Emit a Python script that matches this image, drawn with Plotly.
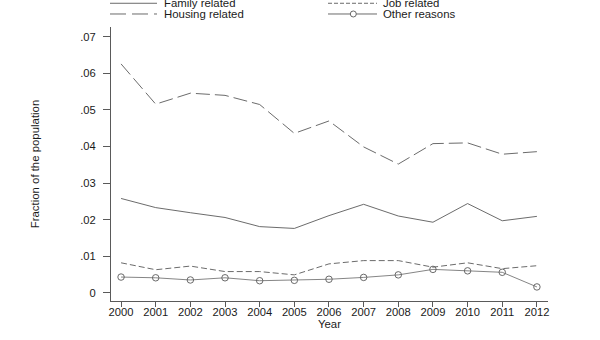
import plotly.graph_objects as go

years = [2000, 2001, 2002, 2003, 2004, 2005, 2006, 2007, 2008, 2009, 2010, 2011, 2012]
family = [0.0258, 0.0233, 0.0219, 0.0206, 0.0181, 0.0176, 0.0211, 0.0242, 0.0210, 0.0193, 0.0244, 0.0197, 0.0209]
job = [0.0082, 0.0063, 0.0073, 0.0058, 0.0058, 0.0049, 0.0079, 0.0088, 0.0088, 0.0070, 0.0082, 0.0066, 0.0074]
housing = [0.0626, 0.0516, 0.0546, 0.0540, 0.0515, 0.0436, 0.0470, 0.0399, 0.0352, 0.0408, 0.0410, 0.0379, 0.0386]
other = [0.0043, 0.0041, 0.0035, 0.0041, 0.0033, 0.0034, 0.0037, 0.0042, 0.0049, 0.0064, 0.0060, 0.0056, 0.0016]

ytick_vals = [0, 0.01, 0.02, 0.03, 0.04, 0.05, 0.06, 0.07]
ytick_text = ["0", ".01", ".02", ".03", ".04", ".05", ".06", ".07"]
legend_names = ["Family related", "Job related", "Housing related", "Other reasons"]

W, H = 600, 340
L, R, T, B = 111, 548, 27, 300.7
LINE = "#5a5a5a"
TXT = "#1a1a1a"
FONT = "Liberation Sans, Arial, sans-serif"

fig = go.Figure()
fig.add_trace(go.Scatter(x=years, y=family, mode="lines", name=legend_names[0],
                         line=dict(color=LINE, width=0.9)))
fig.add_trace(go.Scatter(x=years, y=job, mode="lines", name=legend_names[1],
                         line=dict(color=LINE, width=0.9, dash="6px,3px")))
fig.add_trace(go.Scatter(x=years, y=housing, mode="lines", name=legend_names[2],
                         line=dict(color=LINE, width=0.9, dash="14px,5px")))
fig.add_trace(go.Scatter(x=years, y=other, mode="lines+markers", name=legend_names[3],
                         line=dict(color="#777777", width=0.9),
                         marker=dict(symbol="circle-open", size=6.5, color=LINE,
                                     line=dict(width=0.9, color=LINE))))

def px(x):
    return (x - L) / (R - L)

def py(y):
    return (B - y) / (B - T)

# manual legend (two columns, top partially cut as in the reference)
rows = [3.3, 14.0]
col_line = [(110, 157, 162), (328, 377, 381)]
entries = [(0, 0, 0), (1, 0, 1), (2, 1, 0), (3, 1, 1)]
dashes = ["solid", "4px,2px", "16px,6px", "solid"]
shapes = []
annotations = []
for idx, r, c in entries:
    x0, x1, xt = col_line[c]
    yy = rows[r]
    shapes.append(dict(type="line", xref="paper", yref="paper",
                       x0=px(x0), x1=px(x1), y0=py(yy), y1=py(yy),
                       line=dict(color=LINE, width=0.9, dash=dashes[idx])))
    annotations.append(dict(text=legend_names[idx], xref="paper", yref="paper",
                            x=px(xt), y=py(yy), xanchor="left", yanchor="middle",
                            showarrow=False, font=dict(size=11.4, color=TXT, family=FONT)))
# marker in "Other reasons" legend sample
cx, cy = 353.3, rows[1]
shapes.append(dict(type="circle", xref="paper", yref="paper",
                   x0=px(cx - 3), x1=px(cx + 3), y0=py(cy + 3), y1=py(cy - 3),
                   line=dict(color=LINE, width=0.9), fillcolor="white"))

fig.update_layout(
    width=W, height=H,
    margin=dict(l=L, r=W - R, t=T, b=H - B, autoexpand=False),
    paper_bgcolor="white", plot_bgcolor="white",
    showlegend=False,
    font=dict(family=FONT, size=11, color=TXT),
    shapes=shapes, annotations=annotations,
    xaxis=dict(range=[1999.71, 2012.32], tickvals=years, ticks="outside", ticklen=5,
               tickcolor=LINE, showline=True, linecolor=LINE, linewidth=1,
               showgrid=False, zeroline=False, mirror=False, ticklabelstandoff=-4,
               title=dict(text="Year", standoff=0, font=dict(size=11.4)),
               tickfont=dict(size=11.2)),
    yaxis=dict(range=[-0.00225, 0.0727], tickvals=ytick_vals, ticktext=ytick_text,
               ticks="outside", ticklen=7, tickcolor=LINE, showline=True,
               linecolor=LINE, linewidth=1, showgrid=False, zeroline=False,
               ticklabelstandoff=5,
               title=dict(text="Fraction of the population", standoff=38, font=dict(size=11.4)),
               tickfont=dict(size=11.2)),
)

fig.write_html("out.html")
